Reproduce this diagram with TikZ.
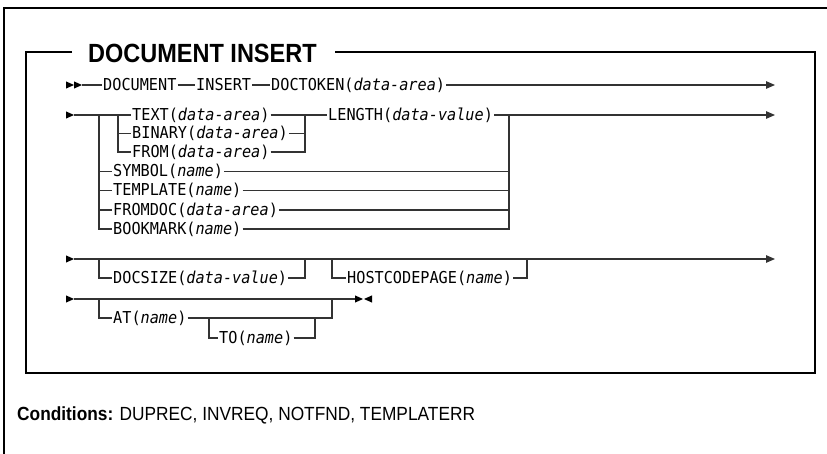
\documentclass[tikz,border=0pt]{standalone}
\usepackage{fontspec}
\usepackage{graphicx}
\setmainfont{Liberation Sans}
\setmonofont{DejaVu Sans Mono}
\usetikzlibrary{arrows.meta}
\newcommand\railtriR[1]{\fill[black] (#1) ++(0,-3.6) -- ++(8,3.6) -- ++(-8,3.6) -- cycle;}
\newcommand\railtriL[1]{\fill[black] (#1) ++(8,-3.6) -- ++(-8,3.6) -- ++(8,3.6) -- cycle;}
\newcommand\railtxt[1]{\scalebox{1}[1.08]{#1}}
\begin{document}
\begin{tikzpicture}[x=1pt,y=-1pt,
  frame/.style={line width=1.6pt},
  rail/.style={line width=1.1pt, draw=black!80},
  kw/.style={font=\ttfamily\fontsize{15.2}{15}\selectfont, inner xsep=1pt, inner ysep=0pt, anchor=west},
  endarrow/.style={-{Triangle[length=9pt,width=7.5pt]}},
]
\useasboundingbox (0,0) rectangle (827,454);
% outer frame
\draw[frame] (4,454) -- (4,8) -- (827,8);
% title and inner box
\node[anchor=west, inner sep=0, font=\bfseries\fontsize{23.5}{24}\selectfont] (title) at (88,53) {\scalebox{1}[1.12]{DOCUMENT INSERT}};
\coordinate (tl) at (72,52);
\coordinate (tr) at (335,52);
\draw[frame] (tl) -- (26,52) -- (26,373) -- (815,373) -- (815,52) -- (tr);

% ---------- row 1
\railtriR{66,85}
\railtriR{74,85}
\coordinate (s1) at (82,85);
\node[kw] (doc) at (102,85) {\railtxt{DOCUMENT}};
\node[kw] (ins) at (195,85) {\railtxt{INSERT}};
\node[kw] (tok) at (270,85) {\railtxt{DOCTOKEN(\textit{data-area})}};
\coordinate (e1) at (775,85);
\draw[rail] (s1) -- (doc.west);
\draw[rail] (doc.east) -- (ins.west);
\draw[rail] (ins.east) -- (tok.west);
\draw[rail,endarrow] (tok.east) -- (e1);

% ---------- row 2
\railtriR{66,115}
\coordinate (s2) at (74,115);
\node[kw] (text) at (131,115) {\railtxt{TEXT(\textit{data-area})}};
\node[kw] (bin) at (131,133.5) {\railtxt{BINARY(\textit{data-area})}};
\node[kw] (from) at (131,152) {\railtxt{FROM(\textit{data-area})}};
\node[kw] (len) at (327,115) {\railtxt{LENGTH(\textit{data-value})}};
\node[kw] (sym) at (112,171.5) {\railtxt{SYMBOL(\textit{name})}};
\node[kw] (tpl) at (112,190.5) {\railtxt{TEMPLATE(\textit{name})}};
\node[kw] (fdoc) at (112,210) {\railtxt{FROMDOC(\textit{data-area})}};
\node[kw] (bkm) at (112,229) {\railtxt{BOOKMARK(\textit{name})}};
\coordinate (e2) at (775,115);
\coordinate (a2) at (99,115);
\coordinate (b2) at (118,115);
\coordinate (c2) at (305,115);
\coordinate (d2) at (509,115);
\draw[rail] (s2) -- (text.west);
\draw[rail] (a2) -- (99,229) -- (bkm.west);
\draw[rail] (99,171.5) -- (sym.west);
\draw[rail] (99,190.5) -- (tpl.west);
\draw[rail] (99,210) -- (fdoc.west);
\draw[rail] (b2) -- (118,152) -- (from.west);
\draw[rail] (118,133.5) -- (bin.west);
\draw[rail] (text.east) -- (c2) -- (len.west);
\draw[rail] (bin.east) -- (305,133.5);
\draw[rail] (from.east) -- (305,152) -- (c2);
\draw[rail,endarrow] (len.east) -- (e2);
\draw[rail] (sym.east) -- (509,171.5);
\draw[rail] (tpl.east) -- (509,190.5);
\draw[rail] (fdoc.east) -- (509,210);
\draw[rail] (bkm.east) -- (509,229) -- (d2);

% ---------- row 3
\railtriR{66,259}
\coordinate (s3) at (74,259);
\coordinate (e3) at (775,259);
\node[kw] (dsz) at (112,278) {\railtxt{DOCSIZE(\textit{data-value})}};
\node[kw] (hcp) at (346,278) {\railtxt{HOSTCODEPAGE(\textit{name})}};
\draw[rail,endarrow] (s3) -- (e3);
\draw[rail] (99,259) -- (99,278) -- (dsz.west);
\draw[rail] (dsz.east) -- (305,278) -- (305,259);
\draw[rail] (332,259) -- (332,278) -- (hcp.west);
\draw[rail] (hcp.east) -- (527,278) -- (527,259);

% ---------- row 4
\railtriR{66,299}
\coordinate (s4) at (74,299);
\coordinate (e4) at (355,299);
\node[kw] (at) at (112,318) {\railtxt{AT(\textit{name})}};
\node[kw] (to) at (218,338) {\railtxt{TO(\textit{name})}};
\draw[rail] (s4) -- (e4);
\railtriR{355,299}
\railtriL{364,299}
\draw[rail] (99,299) -- (99,318) -- (at.west);
\draw[rail] (at.east) -- (332,318) -- (332,299);
\draw[rail] (209,318) -- (209,338) -- (to.west);
\draw[rail] (to.east) -- (315,338) -- (315,318);

% ---------- conditions
\node[anchor=west, inner sep=0, font=\fontsize{17.3}{18}\selectfont] (cond) at (17,415) {\scalebox{1}[1.1]{\textbf{Conditions:} DUPREC, INVREQ, NOTFND, TEMPLATERR}};
\end{tikzpicture}
\end{document}
